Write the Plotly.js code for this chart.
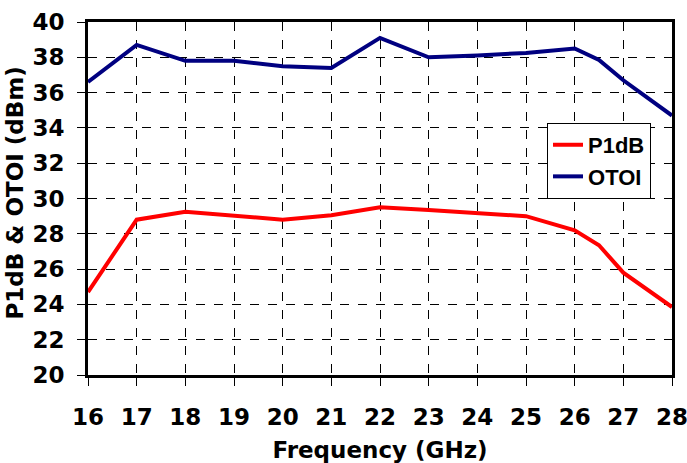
<!DOCTYPE html>
<html>
<head>
<meta charset="utf-8">
<script src="https://cdn.plot.ly/plotly-3.0.1.min.js"></script>
<style>html,body{margin:0;padding:0;background:#fff;}#chart{width:687px;height:463px;}</style>
</head>
<body>
<div id="chart"></div>
<script>
var freq = [16, 17, 18, 19, 20, 21, 22, 23, 24, 25, 26, 26.5, 27, 28];
var p1db = [24.7, 28.8, 29.25, 29.05, 28.8, 29.05, 29.5, 29.35, 29.15, 29.0, 28.2, 27.35, 25.8, 23.85];
var otoi = [36.6, 38.7, 37.8, 37.8, 37.5, 37.4, 39.1, 38.0, 38.1, 38.25, 38.5, 37.85, 36.7, 34.7];
var xTicks = [16, 17, 18, 19, 20, 21, 22, 23, 24, 25, 26, 27, 28];
var yTicks = [20, 22, 24, 26, 28, 30, 32, 34, 36, 38, 40];
var yTitle = 'P1dB &amp; OTOI (dBm)';
var xTitle = 'Frequency (GHz)';

var tickFont = {family: 'DejaVu Sans', size: 23, color: '#000', weight: 'bold'};
var titleFont = {family: 'DejaVu Sans', size: 23, color: '#000', weight: 'bold'};
var traces = [
  {x: freq, y: p1db, name: 'P1dB', mode: 'lines', line: {color: '#ff0000', width: 4}},
  {x: freq, y: otoi, name: 'OTOI', mode: 'lines', line: {color: '#000080', width: 4}}
];
var layout = {
  width: 687, height: 463,
  margin: {l: 88, r: 15, t: 22, b: 88},
  paper_bgcolor: '#fff', plot_bgcolor: '#fff',
  showlegend: true,
  legend: {x: 0.786, y: 0.714, xanchor: 'left', yanchor: 'top',
    bordercolor: '#000', borderwidth: 1, bgcolor: '#fff',
    font: {family: 'Liberation Sans', size: 22, color: '#000', weight: 'bold'},
    tracegroupgap: 0},
  xaxis: {
    range: [16, 28], tickvals: xTicks, ticktext: xTicks.map(String),
    showline: true, linecolor: '#000', linewidth: 3, mirror: true,
    ticks: 'outside', ticklen: 8, tickwidth: 1, tickcolor: '#000',
    ticklabelstandoff: 11, ticklabeloverflow: 'allow',
    showgrid: true, gridcolor: '#000', griddash: 'dash', gridwidth: 1,
    zeroline: false, tickfont: tickFont,
    title: {text: xTitle, font: titleFont, standoff: 15}
  },
  yaxis: {
    range: [20, 40], tickvals: yTicks, ticktext: yTicks.map(String),
    showline: true, linecolor: '#000', linewidth: 3, mirror: true,
    ticks: 'outside', ticklen: 8, tickwidth: 1, tickcolor: '#000',
    ticklabelstandoff: 8,
    showgrid: true, gridcolor: '#000', griddash: 'dash', gridwidth: 1,
    zeroline: false, tickfont: tickFont
  },
  annotations: [{
    text: yTitle, textangle: -90, font: titleFont,
    xref: 'paper', yref: 'paper', x: 0, y: 0.5,
    xanchor: 'center', yanchor: 'middle', xshift: -74, yshift: 5,
    showarrow: false
  }]
};
Plotly.newPlot('chart', traces, layout, {displayModeBar: false, staticPlot: true});
</script>
</body>
</html>
